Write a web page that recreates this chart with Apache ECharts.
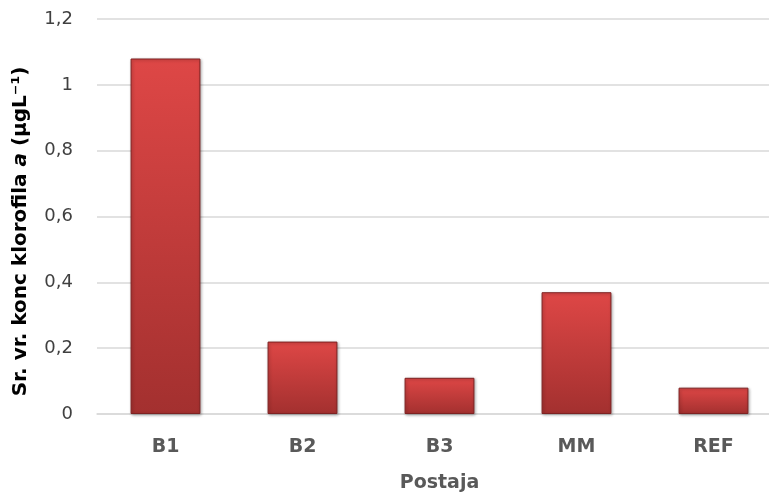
<!DOCTYPE html>
<html>
<head>
<meta charset="utf-8">
<script src="https://cdn.jsdelivr.net/npm/echarts@6/dist/echarts.min.js"></script>
<style>
  html, body { margin: 0; padding: 0; background: #fff; }
  #chart { width: 769px; height: 495px; }
</style>
</head>
<body>
<div id="chart"></div>
<script>
const categories = ['B1', 'B2', 'B3', 'MM', 'REF']
const values = [1.08, 0.22, 0.11, 0.37, 0.08]
const yMin = 0
const yMax = 1.2
const yStep = 0.2

const chart = echarts.init(document.getElementById('chart'))

chart.setOption({
  animation: false,
  textStyle: { fontFamily: 'DejaVu Sans' },
  grid: {
    left: 97,
    right: -13,
    top: 19,
    bottom: 81,
    outerBoundsMode: 'none'
  },
  xAxis: {
    type: 'category',
    data: categories,
    name: 'Postaja',
    nameLocation: 'middle',
    nameGap: 60,
    nameTextStyle: {
      color: '#595959',
      fontSize: 19,
      fontWeight: 'bold'
    },
    axisTick: { show: false },
    axisLine: {
      lineStyle: { color: '#d9d9d9', width: 1.5 }
    },
    axisLabel: {
      margin: 24,
      color: '#595959',
      fontSize: 19,
      fontWeight: 'bold'
    }
  },
  yAxis: {
    type: 'value',
    min: yMin,
    max: yMax,
    interval: yStep,
    name: '{b|Sr. vr. konc klorofila }{i|a}{b| (µgL⁻¹)}',
    nameLocation: 'middle',
    nameRotate: 90,
    nameGap: 66,
    nameTextStyle: {
      padding: [0, 30, 0, 0],
      rich: {
        b: { color: '#000', fontSize: 20, fontWeight: 'bold', fontFamily: 'DejaVu Sans' },
        i: { color: '#000', fontSize: 20, fontWeight: 'bold', fontStyle: 'italic', fontFamily: 'DejaVu Sans' }
      }
    },
    axisLine: { show: false },
    axisTick: { show: false },
    axisLabel: {
      margin: 24,
      color: '#404040',
      fontSize: 18,
      formatter: v => String(Math.round(v * 10) / 10).replace('.', ',')
    },
    splitLine: {
      lineStyle: { color: '#d9d9d9', width: 1.5 }
    }
  },
  series: [{
    type: 'bar',
    data: values,
    barWidth: '51%',
    itemStyle: {
      color: new echarts.graphic.LinearGradient(0, 0, 0, 1, [
        { offset: 0, color: '#de4746' },
        { offset: 1, color: '#a3302f' }
      ]),
      borderColor: '#7e2222',
      borderWidth: 1,
      shadowColor: 'rgba(0,0,0,0.3)',
      shadowBlur: 3,
      shadowOffsetX: 1,
      shadowOffsetY: 1
    }
  }]
})
</script>
</body>
</html>
